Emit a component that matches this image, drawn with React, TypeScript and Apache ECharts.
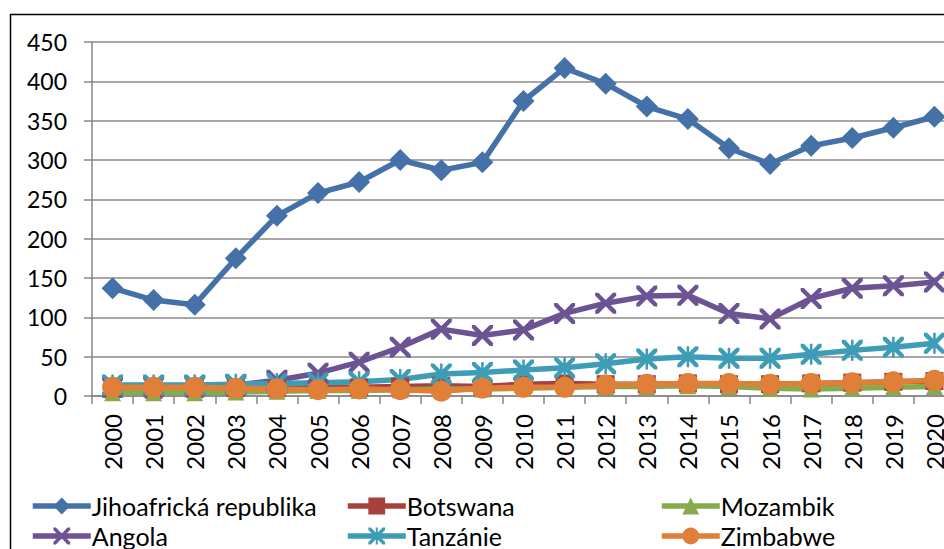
import React, { useEffect, useRef } from "react";
import * as echarts from "echarts";

const years = ["2000","2001","2002","2003","2004","2005","2006","2007","2008","2009","2010","2011","2012","2013","2014","2015","2016","2017","2018","2019","2020"];
const jihoafrika = [137,122,116,175,229,258,272,300,287,297,375,417,397,368,352,315,295,318,328,341,355];
const botswana = [9,8,9,10,10,11,11,12,13,12,15,16,15,15,16,15,15,16,17,18,19];
const mozambik = [4,4,4,5,6,7,7,8,9,9,10,11,12,12,13,12,10,9,10,11,12];
const angola = [11,12,13,14,20,29,43,62,85,77,84,105,118,127,128,105,98,124,137,140,145];
const tanzanie = [14,14,14,15,16,17,18,21,28,30,33,36,41,47,50,48,48,53,58,62,67];
const zimbabwe = [11,11,11,10,9,8,9,8,6,10,11,11,14,15,16,16,15,16,17,18,20];
const yTicks = [0, 450, 50];

const X_PATH = "path://M0,0L3,0L20,17L20,20L17,20L0,3Z M17,0L20,0L20,3L3,20L0,20L0,17Z";
const STAR_PATH = "path://M0,0L3,0L20,17L20,20L17,20L0,3Z M17,0L20,0L20,3L3,20L0,20L0,17Z M8.8,0L11.2,0L11.2,20L8.8,20Z";

const FONT = "Lato";

export default function App() {
  const ref = useRef<HTMLDivElement>(null);
  useEffect(() => {
    const chart = echarts.init(ref.current!, null, { renderer: "svg" });
    const mk = (name: string, data: number[], color: string, symbol: string, size: number) => ({
      name,
      type: "line",
      data,
      color,
      symbol,
      symbolSize: size,
      showAllSymbol: true,
      lineStyle: { width: 5.5, color },
      itemStyle: { color, borderColor: color, borderWidth: 0 },
    });
    const legendCols = [30, 345, 659];
    const rows = [492, 522];
    const legendItems = [
      ["Jihoafrická republika", 0, 0],
      ["Botswana", 1, 0],
      ["Mozambik", 2, 0],
      ["Angola", 0, 1],
      ["Tanzánie", 1, 1],
      ["Zimbabwe", 2, 1],
    ] as [string, number, number][];
    chart.setOption({
      animation: false,
      textStyle: { fontFamily: FONT },
      grid: { left: 92, top: 42, width: 863, height: 354 },
      graphic: [
        {
          type: "rect",
          shape: { x: 10.5, y: 14.5, width: 1000, height: 600 },
          style: { fill: "none", stroke: "#000", lineWidth: 1.5 },
          silent: true,
        },
      ],
      legend: legendItems.map(([n, c, r]) => ({
        data: [{ name: n, lineStyle: { width: 5.5 } }],
        left: legendCols[c],
        top: rows[r],
        padding: 0,
        itemWidth: 58,
        itemHeight: 21,
        itemGap: 0,
        lineStyle: { width: 5.5 },
        textStyle: { fontFamily: FONT, fontSize: 25, color: "#000", lineHeight: 28, padding: [0, 0, 0, -4] },
        selectedMode: false,
      })),
      xAxis: {
        type: "category",
        data: years,
        boundaryGap: true,
        axisLine: { lineStyle: { color: "#868686", width: 1.5 } },
        axisTick: { show: true, interval: 0, length: 8, lineStyle: { color: "#868686", width: 1.5 } },
        axisLabel: { interval: 0, rotate: 90, margin: 18, fontSize: 24, color: "#000", fontFamily: FONT },
        splitLine: { show: false },
      },
      yAxis: {
        type: "value",
        min: yTicks[0],
        max: yTicks[1],
        interval: yTicks[2],
        axisLine: { show: true, lineStyle: { color: "#868686", width: 1.5 } },
        axisTick: { show: true, length: 8, lineStyle: { color: "#868686", width: 1.5 } },
        axisLabel: { margin: 25, fontSize: 23, color: "#000", fontFamily: FONT },
        splitLine: { show: true, lineStyle: { color: "#8a8a8a", width: 1.5 } },
      },
      series: [
        mk("Jihoafrická republika", jihoafrika, "#4471A8", "diamond", 22),
        mk("Botswana", botswana, "#A6413D", "rect", 18),
        mk("Mozambik", mozambik, "#87AA4C", "triangle", 17),
        mk("Angola", angola, "#6C5393", X_PATH, 21),
        mk("Tanzánie", tanzanie, "#3D9DB6", STAR_PATH, 21),
        mk("Zimbabwe", zimbabwe, "#E07F37", "circle", 21),
      ],
    });
    return () => chart.dispose();
  }, []);
  return (
    <div style={{ position: "absolute", left: 0, top: 0, width: 944, height: 549, overflow: "hidden", background: "#fff" }}>
      <div ref={ref} style={{ position: "absolute", left: 0, top: 0, width: 990, height: 549 }} />
    </div>
  );
}
